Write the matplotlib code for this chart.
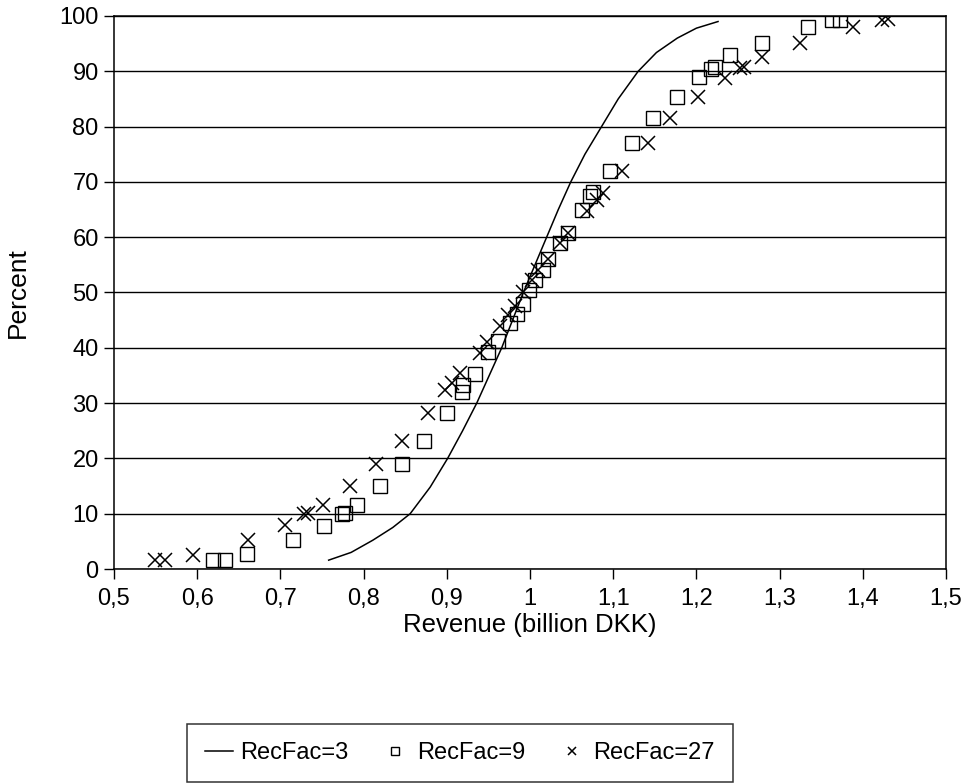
import numpy as np
import matplotlib
matplotlib.use("Agg")
import matplotlib.pyplot as plt
from matplotlib.ticker import FuncFormatter, MultipleLocator

plt.rcParams['font.family'] = ['Liberation Sans', 'DejaVu Sans']

# RecFac=3 : smooth curve
rf3_x = [0.758, 0.785, 0.811, 0.835, 0.856, 0.880, 0.901, 0.919, 0.936, 0.951,
         0.966, 0.979, 0.992, 1.006, 1.020, 1.034, 1.049, 1.066, 1.086, 1.106,
         1.130, 1.152, 1.177, 1.200, 1.226]
rf3_y = [1.6, 3.0, 5.2, 7.5, 10.0, 14.8, 20.0, 25.0, 30.0, 35.0,
         40.0, 45.0, 50.0, 55.0, 60.0, 65.0, 70.0, 75.0, 80.0, 85.0,
         90.0, 93.4, 96.0, 97.8, 99.0]

# RecFac=9 : squares
rf9_x = [0.619, 0.633, 0.660, 0.715, 0.752, 0.774, 0.778, 0.792, 0.820, 0.846,
         0.872, 0.900, 0.918, 0.920, 0.934, 0.950, 0.962, 0.976, 0.984, 0.992,
         0.999, 1.006, 1.016, 1.022, 1.036, 1.046, 1.062, 1.072, 1.076, 1.096,
         1.123, 1.148, 1.177, 1.203, 1.218, 1.222, 1.240, 1.279, 1.334, 1.363,
         1.373]
rf9_y = [1.6, 1.6, 2.7, 5.2, 7.8, 10.0, 10.2, 11.6, 15.0, 19.0,
         23.1, 28.2, 32.0, 33.2, 35.2, 39.2, 41.2, 44.4, 46.2, 48.0,
         50.4, 52.2, 54.0, 56.0, 59.0, 60.8, 65.0, 67.5, 68.2, 72.0,
         77.0, 81.5, 85.3, 89.0, 90.5, 90.8, 92.9, 95.2, 98.0, 99.2,
         99.2]

# RecFac=27 : crosses
rf27_x = [0.549, 0.561, 0.595, 0.661, 0.706, 0.728, 0.733, 0.751, 0.784, 0.815,
          0.846, 0.877, 0.898, 0.906, 0.916, 0.940, 0.948, 0.964, 0.974, 0.982,
          0.992, 1.002, 1.010, 1.022, 1.036, 1.046, 1.069, 1.081, 1.088, 1.111,
          1.142, 1.168, 1.202, 1.234, 1.252, 1.257, 1.279, 1.325, 1.388, 1.423,
          1.430]
rf27_y = [1.6, 1.6, 2.5, 5.2, 7.9, 10.0, 10.2, 11.6, 15.0, 19.0,
          23.1, 28.2, 32.3, 33.6, 35.4, 39.0, 41.0, 44.0, 45.9, 47.5,
          50.0, 52.2, 54.0, 56.1, 59.0, 60.8, 64.8, 66.8, 68.0, 72.0,
          77.0, 81.5, 85.3, 88.8, 90.6, 90.8, 92.5, 95.2, 98.1, 99.2,
          99.4]

fig = plt.figure(figsize=(9.72, 7.84), dpi=100)
ax = fig.add_axes([114/972, 1 - 569/784, (946 - 114)/972, (569 - 16)/784])

ax.plot(rf3_x, rf3_y, color='black', lw=1.1, label='RecFac=3')
ax.plot(rf9_x, rf9_y, ls='none', marker='s', ms=10.5, mfc='none', mec='black',
        mew=1.0, label='RecFac=9')
ax.plot(rf27_x, rf27_y, ls='none', marker='x', ms=10, mec='black',
        mew=1.1, label='RecFac=27')

ax.set_xlim(0.5, 1.5)
ax.set_ylim(0, 100)
ax.xaxis.set_major_locator(MultipleLocator(0.1))
ax.yaxis.set_major_locator(MultipleLocator(10))
ax.xaxis.set_major_formatter(FuncFormatter(lambda v, p: ('%g' % round(v, 2)).replace('.', ',')))
ax.yaxis.set_major_formatter(FuncFormatter(lambda v, p: '%d' % round(v)))
ax.tick_params(axis='both', direction='out', length=7, width=1, labelsize=17,
               color='black')
ax.tick_params(axis='x', pad=7)
ax.tick_params(axis='y', pad=4)
ax.grid(axis='y', color='black', lw=1)
ax.set_axisbelow(True)
for s in ax.spines.values():
    s.set_color('black')
    s.set_linewidth(1.1)

ax.set_xlabel('Revenue (billion DKK)', fontsize=18.5, labelpad=2)
ax.set_ylabel('Percent', fontsize=19, labelpad=21)

handles, labels = ax.get_legend_handles_labels()
leg = fig.legend(handles, labels, loc='center left', bbox_to_anchor=(175/972, 1 - 753/784),
                 ncol=3, frameon=True, fancybox=False, edgecolor='black',
                 fontsize=17, markerscale=0.55, handlelength=1.2,
                 columnspacing=1.4, borderpad=0.75, handletextpad=0.3)
leg.get_frame().set_linewidth(1.1)

plt.savefig('out.png', dpi=100)
